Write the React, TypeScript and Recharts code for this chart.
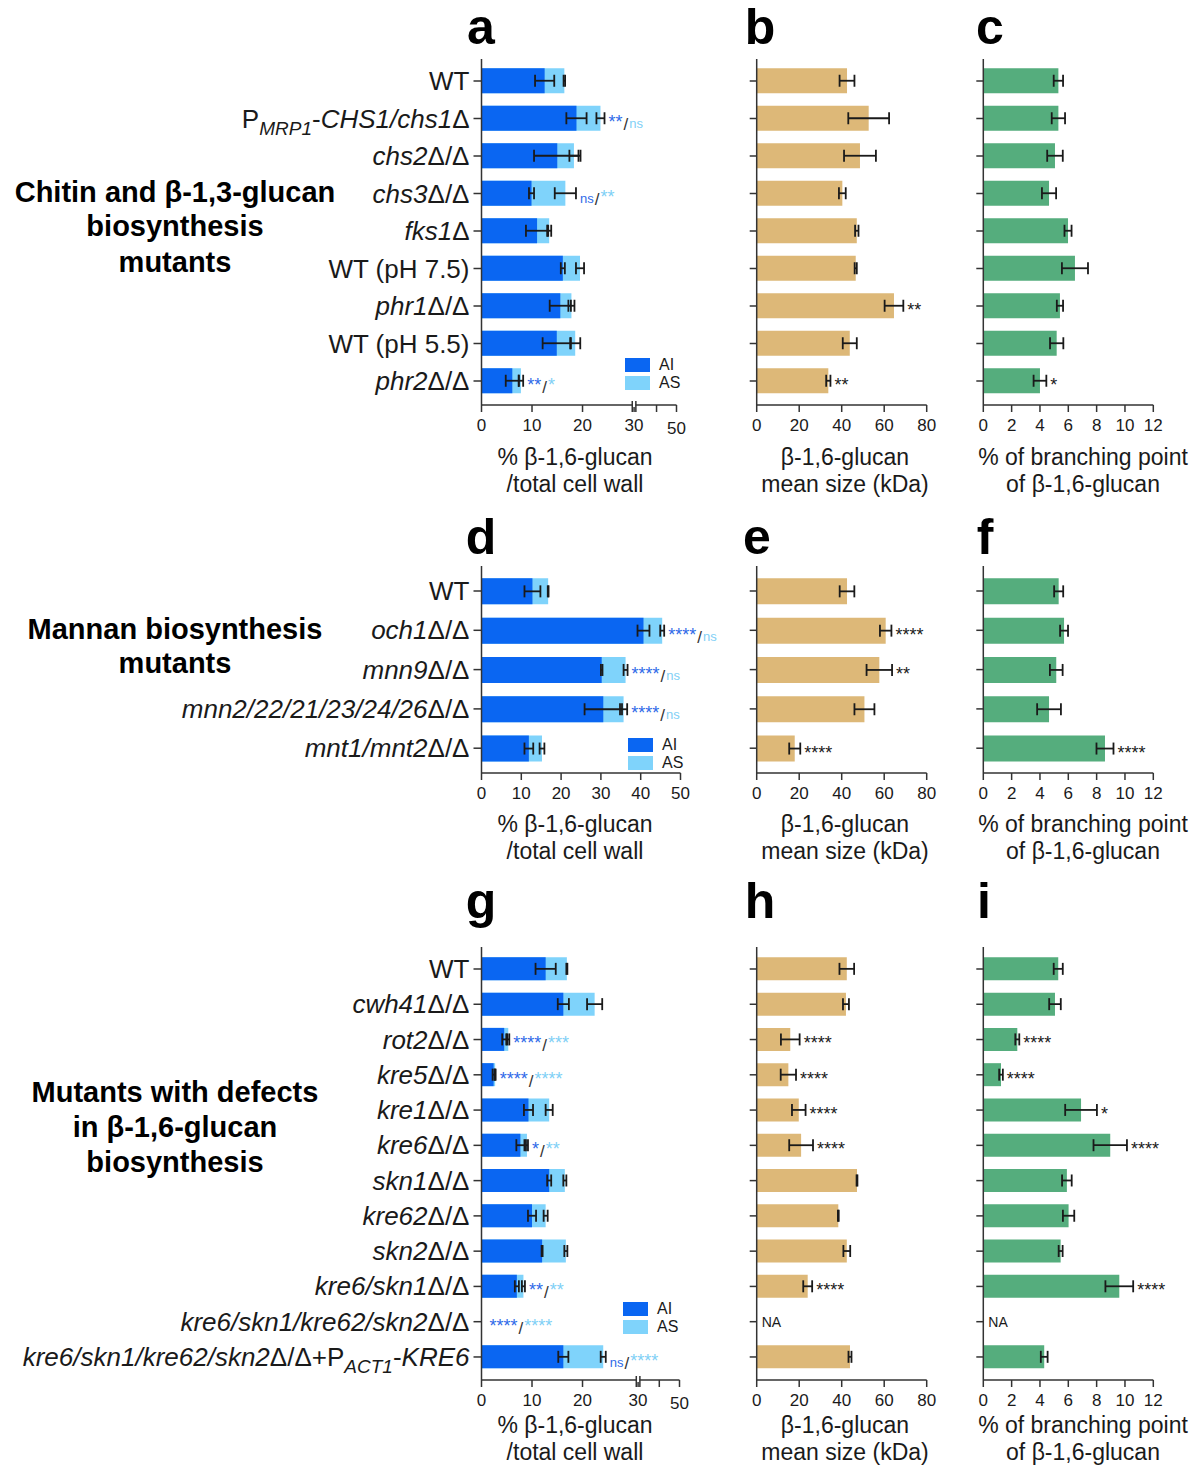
import React from "react";
import { BarChart, Bar, XAxis, YAxis, ErrorBar, LabelList, Legend } from "recharts";

const FONT = "'Liberation Sans', Arial, Helvetica, sans-serif";
const AI_COLOR = "#0a66f2";
const AS_COLOR = "#7fd3fb";
const SIZE_COLOR = "#ddb878";
const BRANCH_COLOR = "#55ad7d";
const SIG_DARK = "#2f6ae8";
const SIG_LIGHT = "#7fd0f6";
const INK = "#1a1a1a";
const AXIS = { stroke: "#333", strokeWidth: 1.5 };

// markup in strain names: *...* italic, _..._ subscript

// a, b, c: chitin and β-1,3-glucan mutants
const chitinStrains = ["WT", "P_*MRP1*_-*CHS1/chs1*Δ", "*chs2*Δ/Δ", "*chs3*Δ/Δ", "*fks1*Δ", "WT (pH 7.5)", "*phr1*Δ/Δ", "WT (pH 5.5)", "*phr2*Δ/Δ"];
const chitinAI = [12.5, 18.8, 15.0, 9.9, 11.0, 16.1, 15.6, 14.9, 6.1];
const chitinAIErr = [1.9, 2.0, 4.6, 0.5, 2.2, 0.4, 2.1, 2.8, 1.3];
const chitinAS = [3.9, 4.75, 3.3, 6.7, 2.4, 3.4, 2.2, 3.65, 1.7];
const chitinASErr = [0.15, 0.8, 0.9, 2.1, 0.4, 0.8, 0.6, 1.0, 0.45];
const chitinSig = [["", ""], ["**", "ns"], ["", ""], ["ns", "**"], ["", ""], ["", ""], ["", ""], ["", ""], ["**", "*"]];
const chitinSize = [42.5, 52.7, 48.6, 40.3, 47.1, 46.6, 64.6, 43.8, 33.7];
const chitinSizeErr = [3.5, 9.6, 7.5, 1.6, 0.8, 0.5, 4.4, 3.3, 1.0];
const chitinSizeSig = ["", "", "", "", "", "", "**", "", "**"];
const chitinBranch = [5.3, 5.3, 5.06, 4.64, 5.98, 6.47, 5.41, 5.18, 4.0];
const chitinBranchErr = [0.33, 0.47, 0.55, 0.5, 0.25, 0.92, 0.22, 0.47, 0.45];
const chitinBranchSig = ["", "", "", "", "", "", "", "", "*"];

// d, e, f: mannan mutants
const mannanStrains = ["WT", "*och1*Δ/Δ", "*mnn9*Δ/Δ", "*mnn2/22/21/23/24/26*Δ/Δ", "*mnt1/mnt2*Δ/Δ"];
const mannanAI = [12.8, 40.7, 30.2, 30.6, 11.9];
const mannanAIErr = [2.0, 1.5, 0.2, 4.7, 1.1];
const mannanAS = [3.95, 4.7, 6.0, 5.1, 3.3];
const mannanASErr = [0.1, 0.5, 0.5, 0.9, 0.6];
const mannanSig = [["", ""], ["****", "ns"], ["****", "ns"], ["****", "ns"], ["", ""]];
const mannanSize = [42.5, 60.7, 57.7, 50.7, 17.9];
const mannanSizeErr = [3.45, 2.7, 6.0, 4.7, 2.6];
const mannanSizeSig = ["", "****", "**", "", "****"];
const mannanBranch = [5.32, 5.7, 5.15, 4.64, 8.59];
const mannanBranchErr = [0.32, 0.28, 0.45, 0.84, 0.6];
const mannanBranchSig = ["", "", "", "", "****"];

// g, h, i: β-1,6-glucan biosynthesis mutants
const kreStrains = ["WT", "*cwh41*Δ/Δ", "*rot2*Δ/Δ", "*kre5*Δ/Δ", "*kre1*Δ/Δ", "*kre6*Δ/Δ", "*skn1*Δ/Δ", "*kre62*Δ/Δ", "*skn2*Δ/Δ", "*kre6/skn1*Δ/Δ", "*kre6/skn1/kre62/skn2*Δ/Δ", "*kre6/skn1/kre62/skn2*Δ/Δ+P_*ACT1*_-*KRE6*"];
const kreAI = [12.7, 16.2, 4.5, 2.4, 9.3, 7.7, 13.4, 10.0, 12.0, 7.0, 0, 16.2];
const kreAIErr = [2.0, 1.1, 0.4, 0.2, 0.9, 0.8, 0.4, 0.8, 0.1, 0.4, null, 1.0];
const kreAS = [4.2, 6.2, 0.8, 0.3, 4.1, 1.3, 3.1, 2.7, 4.7, 1.3, 0, 7.9];
const kreASErr = [0.1, 1.5, 0.2, 0.1, 0.7, 0.2, 0.3, 0.4, 0.3, 0.3, null, 0.5];
const kreSig = [["", ""], ["", ""], ["****", "***"], ["****", "****"], ["", ""], ["*", "**"], ["", ""], ["", ""], ["", ""], ["**", "**"], ["****", "****"], ["ns", "****"]];
const kreSize = [42.4, 42.0, 15.8, 14.9, 19.8, 20.9, 47.2, 38.4, 42.4, 24.0, null, 43.9];
const kreSizeErr = [3.45, 1.4, 4.4, 3.6, 3.2, 5.6, 0.2, 0.2, 1.6, 2.1, null, 0.7];
const kreSizeSig = ["", "", "****", "****", "****", "****", "", "", "", "****", "", ""];
const kreBranch = [5.29, 5.06, 2.4, 1.25, 6.9, 8.96, 5.9, 6.02, 5.46, 9.6, null, 4.3];
const kreBranchErr = [0.32, 0.41, 0.14, 0.13, 1.12, 1.18, 0.34, 0.4, 0.14, 0.98, null, 0.24];
const kreBranchSig = ["", "", "****", "****", "*", "****", "", "", "", "****", "", ""];

function buildRows(strains, ai, aiErr, as, asErr, sig, size, sizeErr, sizeSig, branch, branchErr, branchSig) {
  return strains.map((strain, i) => ({
    strain,
    ai: ai[i],
    aiErr: aiErr[i],
    total: ai[i] + as[i],
    asErr: asErr[i],
    sigAI: sig[i][0],
    sigAS: sig[i][1],
    size: size[i],
    sizeErr: sizeErr[i],
    sizeSig: sizeSig[i],
    branch: branch[i],
    branchErr: branchErr[i],
    branchSig: branchSig[i],
  }));
}

const chitinRows = buildRows(chitinStrains, chitinAI, chitinAIErr, chitinAS, chitinASErr, chitinSig, chitinSize, chitinSizeErr, chitinSizeSig, chitinBranch, chitinBranchErr, chitinBranchSig);
const mannanRows = buildRows(mannanStrains, mannanAI, mannanAIErr, mannanAS, mannanASErr, mannanSig, mannanSize, mannanSizeErr, mannanSizeSig, mannanBranch, mannanBranchErr, mannanBranchSig);
const kreRows = buildRows(kreStrains, kreAI, kreAIErr, kreAS, kreASErr, kreSig, kreSize, kreSizeErr, kreSizeSig, kreBranch, kreBranchErr, kreBranchSig);

// layout
const ROW1 = { plotTop: 59, plotBottom: 405, padTop: 3.25, padBottom: 5.25, barSize: 25 };
const ROW2 = { plotTop: 566, plotBottom: 773, padTop: 5.35, padBottom: 5.15, barSize: 26 };
const ROW3 = { plotTop: 947, plotBottom: 1380, padTop: 4.36, padBottom: 5.4, barSize: 23 };
const X_TICK = 7;
const X_MARGIN = 7;
const Y_TICK = 8;
const Y_MARGIN = 4;
const AXIS_H = 40;
const LABEL_SIZE = 26;
const STAR_SIZE = 18;
const ERR = { stroke: INK, strokeWidth: 1.8 };

const brokenA = { plotLeft: 481.5, plotWidth: 195, domainMax: 38.6, ticks: [0, 10, 20, 30.2, 34.65, 38.6], labels: ["0", "10", "20", "30", "", "50"], breakAt: 30.2 };
const brokenG = { plotLeft: 481.5, plotWidth: 198, domainMax: 39.2, ticks: [0, 10, 20, 31, 35.2, 39.2], labels: ["0", "10", "20", "30", "", "50"], breakAt: 31 };
const linearD = { plotLeft: 481.5, plotWidth: 199, domainMax: 50, ticks: [0, 10, 20, 30, 40, 50] };
const sizeAxis = { plotLeft: 756.7, plotWidth: 170, domainMax: 80, ticks: [0, 20, 40, 60, 80] };
const branchAxis = { plotLeft: 983.3, plotWidth: 170, domainMax: 12, ticks: [0, 2, 4, 6, 8, 10, 12] };

function parseMarkup(s) {
  const segs = [];
  let italic = false;
  let sub = false;
  let cur = "";
  const push = () => {
    if (cur) segs.push({ t: cur, italic, sub });
    cur = "";
  };
  for (const ch of s) {
    if (ch === "*") { push(); italic = !italic; }
    else if (ch === "_") { push(); sub = !sub; }
    else cur += ch;
  }
  push();
  return segs;
}

function sigText(x, y, row) {
  return (
    <text x={x} y={y + 10} fontFamily={FONT}>
      <tspan fill={SIG_DARK} fontSize={row.sigAI === "ns" ? 13 : STAR_SIZE}>{row.sigAI}</tspan>
      <tspan fill="#333" fontSize={17} dx={1} dy={2}>/</tspan>
      <tspan fill={SIG_LIGHT} fontSize={row.sigAS === "ns" ? 13 : STAR_SIZE} dx={1} dy={-2}>{row.sigAS}</tspan>
    </text>
  );
}

function StrainTick(props) {
  const { x, y, payload, rows } = props;
  const segs = parseMarkup(String(payload.value));
  const row = rows.find((r) => r.strain === payload.value);
  let prevSub = false;
  return (
    <g>
      <text x={x} y={y + 9} textAnchor="end" fontSize={LABEL_SIZE} fill={INK} fontFamily={FONT}>
        {segs.map((s, i) => {
          const dy = s.sub && !prevSub ? 7 : !s.sub && prevSub ? -7 : undefined;
          prevSub = s.sub;
          return (
            <tspan key={i} dy={dy} fontStyle={s.italic ? "italic" : "normal"} fontSize={s.sub ? 19 : LABEL_SIZE}>
              {s.t}
            </tspan>
          );
        })}
      </text>
      {/* rows with no measurable glucan: annotation sits next to the axis */}
      {row && row.total === 0 && (row.sigAI || row.sigAS) ? sigText(x + Y_TICK + Y_MARGIN + 8, y, row) : null}
    </g>
  );
}

function NumberTick(props) {
  const { x, y, payload, ticks, labels, breakAt } = props;
  const v = payload.value;
  const i = ticks.indexOf(v);
  const label = labels ? labels[i] : String(v);
  const axisY = y - X_TICK - X_MARGIN;
  return (
    <g>
      {breakAt === v && (
        <g>
          <rect x={x - 1.5} y={axisY - 2} width={3} height={4} fill="#fff" />
          <line x1={x - 1.8} x2={x - 1.8} y1={axisY - 4} y2={axisY + 7} {...AXIS} />
          <line x1={x + 1.8} x2={x + 1.8} y1={axisY - 4} y2={axisY + 7} {...AXIS} />
        </g>
      )}
      <text x={x} y={y + (labels && label === "50" ? 3 : 0)} dy="0.71em" textAnchor="middle" fontSize={17} fill={INK} fontFamily={FONT}>
        {label}
      </text>
    </g>
  );
}

function boxOf(p) {
  const vb = p.viewBox || {};
  return {
    x: p.x ?? vb.x,
    y: p.y ?? vb.y,
    width: p.width ?? vb.width ?? 0,
    height: p.height ?? vb.height ?? 0,
  };
}

function StackSig(p, rows, unit) {
  const row = rows.find((r) => r.strain === p.value);
  if (!row || row.total === 0 || (!row.sigAI && !row.sigAS)) return null;
  const b = boxOf(p);
  const end = Math.max(row.total + (row.asErr || 0), row.ai + (row.aiErr || 0));
  const sx = b.x + b.width + (end - row.total) * unit + 4;
  return sigText(sx, b.y + b.height / 2, row);
}

function SingleSig(p, rows, valueKey, errKey, sigKey, unit) {
  const row = rows.find((r) => r.strain === p.value);
  if (!row || !row[sigKey] || row[valueKey] == null) return null;
  const b = boxOf(p);
  const sx = b.x + b.width + (row[errKey] || 0) * unit + 4;
  const cy = b.y + b.height / 2;
  return (
    <text x={sx} y={cy + 10} fontSize={STAR_SIZE} fill={INK} fontFamily={FONT}>
      {row[sigKey]}
    </text>
  );
}

function LegendBox({ payload }) {
  const items = [...(payload || [])].sort((a, b) => String(a.value).localeCompare(String(b.value)));
  return (
    <div style={{ fontFamily: FONT, fontSize: 16, color: INK }}>
      {items.map((it) => (
        <div key={it.value} style={{ display: "flex", alignItems: "center", height: 18 }}>
          <span style={{ display: "inline-block", width: 25, height: 14, background: it.color }} />
          <span style={{ marginLeft: 9, lineHeight: "18px" }}>{it.value}</span>
        </div>
      ))}
    </div>
  );
}

function StackedPanel({ rows, row, axis, width, legendAt }) {
  const height = row.plotBottom - row.plotTop + AXIS_H;
  const yAxisW = axis.plotLeft;
  const right = width - yAxisW - axis.plotWidth;
  const unit = axis.plotWidth / axis.domainMax;
  return (
    <div style={{ position: "absolute", left: 0, top: row.plotTop }}>
      <BarChart width={width} height={height} data={rows} layout="vertical" barGap={-row.barSize} margin={{ top: 0, right, bottom: 0, left: 0 }}>
        <XAxis
          type="number"
          domain={[0, axis.domainMax]}
          ticks={axis.ticks}
          interval={0}
          height={AXIS_H}
          tickSize={X_TICK}
          tickMargin={X_MARGIN}
          axisLine={AXIS}
          tickLine={AXIS}
          tick={(p) => <NumberTick {...p} ticks={axis.ticks} labels={axis.labels} breakAt={axis.breakAt} />}
        />
        <YAxis
          type="category"
          dataKey="strain"
          width={yAxisW}
          interval={0}
          padding={{ top: row.padTop, bottom: row.padBottom }}
          tickSize={Y_TICK}
          tickMargin={Y_MARGIN}
          axisLine={AXIS}
          tickLine={AXIS}
          tick={(p) => <StrainTick {...p} rows={rows} />}
        />
        <Bar dataKey="total" name="AS" fill={AS_COLOR} barSize={row.barSize} isAnimationActive={false}>
          <ErrorBar dataKey="asErr" direction="x" width={6} {...ERR} />
          <LabelList dataKey="strain" content={(p) => StackSig(p, rows, unit)} />
        </Bar>
        <Bar dataKey="ai" name="AI" fill={AI_COLOR} barSize={row.barSize} isAnimationActive={false}>
          <ErrorBar dataKey="aiErr" direction="x" width={6} {...ERR} />
        </Bar>
        <Legend
          layout="vertical"
          align="center"
          verticalAlign="middle"
          content={(p) => <LegendBox payload={p.payload} />}
          wrapperStyle={{ left: legendAt[0], top: legendAt[1] - row.plotTop, width: 70, height: 36 }}
        />
      </BarChart>
    </div>
  );
}

function SinglePanel({ rows, row, axis, left, width, valueKey, errKey, sigKey, color }) {
  const height = row.plotBottom - row.plotTop + AXIS_H;
  const yAxisW = axis.plotLeft - left;
  const right = width - yAxisW - axis.plotWidth;
  const unit = axis.plotWidth / axis.domainMax;
  return (
    <div style={{ position: "absolute", left, top: row.plotTop }}>
      <BarChart width={width} height={height} data={rows} layout="vertical" margin={{ top: 0, right, bottom: 0, left: 0 }}>
        <XAxis
          type="number"
          domain={[0, axis.domainMax]}
          ticks={axis.ticks}
          interval={0}
          height={AXIS_H}
          tickSize={X_TICK}
          tickMargin={X_MARGIN}
          axisLine={AXIS}
          tickLine={AXIS}
          tick={(p) => <NumberTick {...p} ticks={axis.ticks} />}
        />
        <YAxis
          type="category"
          dataKey="strain"
          width={yAxisW}
          interval={0}
          padding={{ top: row.padTop, bottom: row.padBottom }}
          tickSize={7}
          tickMargin={2}
          axisLine={AXIS}
          tickLine={AXIS}
          tick={(p) => {
            const r = rows.find((q) => q.strain === p.payload?.value);
            if (!r || r[valueKey] != null) return <g />;
            return (
              <text x={p.x + 9 + 5} y={p.y + 5} fontSize={14} fill={INK} fontFamily={FONT}>
                NA
              </text>
            );
          }}
        />
        <Bar dataKey={valueKey} fill={color} barSize={row.barSize} isAnimationActive={false}>
          <ErrorBar dataKey={errKey} direction="x" width={6} {...ERR} />
          <LabelList dataKey="strain" content={(p) => SingleSig(p, rows, valueKey, errKey, sigKey, unit)} />
        </Bar>
      </BarChart>
    </div>
  );
}

const letters = [
  ["a", 481, 44], ["b", 760, 44], ["c", 990, 44],
  ["d", 481, 554], ["e", 757, 554], ["f", 985, 554],
  ["g", 481, 918], ["h", 760, 918], ["i", 984, 918],
];

const groupLabels = [
  [["Chitin and β-1,3-glucan", "biosynthesis", "mutants"], [192, 226, 262]],
  [["Mannan biosynthesis", "mutants"], [629, 663]],
  [["Mutants with defects", "in β-1,6-glucan", "biosynthesis"], [1092, 1127, 1162]],
];

const axisTitles = [
  ["% β-1,6-glucan", "/total cell wall", 575],
  ["β-1,6-glucan", "mean size (kDa)", 845],
  ["% of branching point", "of β-1,6-glucan", 1083],
];
const axisTitleRows = [457, 824, 1425];

export default function App() {
  return (
    <div style={{ position: "relative", width: 1198, height: 1465, background: "#fff", overflow: "hidden", fontFamily: FONT }}>
      <style>{"body{margin:0}"}</style>
      <svg width={1198} height={1465} style={{ position: "absolute", left: 0, top: 0 }}>
        {letters.map(([t, x, y]) => (
          <text key={t} x={x} y={y} textAnchor="middle" fontSize={50} fontWeight="bold" fill="#000" fontFamily={FONT}>
            {t}
          </text>
        ))}
        {groupLabels.map(([lines, ys], gi) =>
          lines.map((ln, li) => (
            <text key={`${gi}-${li}`} x={175} y={ys[li]} dominantBaseline="central" textAnchor="middle" fontSize={29} fontWeight="bold" fill="#000" fontFamily={FONT}>
              {ln}
            </text>
          ))
        )}
        {axisTitleRows.map((ty, ri) =>
          axisTitles.map(([l1, l2, cx], ci) => (
            <g key={`${ri}-${ci}`}>
              <text x={cx} y={ty} dominantBaseline="central" textAnchor="middle" fontSize={23} fill={INK} fontFamily={FONT}>{l1}</text>
              <text x={cx} y={ty + 27} dominantBaseline="central" textAnchor="middle" fontSize={23} fill={INK} fontFamily={FONT}>{l2}</text>
            </g>
          ))
        )}
      </svg>

      <StackedPanel rows={chitinRows} row={ROW1} axis={brokenA} width={740} legendAt={[625, 356]} />
      <SinglePanel rows={chitinRows} row={ROW1} axis={sizeAxis} left={735} width={235} valueKey="size" errKey="sizeErr" sigKey="sizeSig" color={SIZE_COLOR} />
      <SinglePanel rows={chitinRows} row={ROW1} axis={branchAxis} left={966} width={232} valueKey="branch" errKey="branchErr" sigKey="branchSig" color={BRANCH_COLOR} />

      <StackedPanel rows={mannanRows} row={ROW2} axis={linearD} width={740} legendAt={[628, 736]} />
      <SinglePanel rows={mannanRows} row={ROW2} axis={sizeAxis} left={735} width={235} valueKey="size" errKey="sizeErr" sigKey="sizeSig" color={SIZE_COLOR} />
      <SinglePanel rows={mannanRows} row={ROW2} axis={branchAxis} left={966} width={232} valueKey="branch" errKey="branchErr" sigKey="branchSig" color={BRANCH_COLOR} />

      <StackedPanel rows={kreRows} row={ROW3} axis={brokenG} width={740} legendAt={[623, 1300]} />
      <SinglePanel rows={kreRows} row={ROW3} axis={sizeAxis} left={735} width={235} valueKey="size" errKey="sizeErr" sigKey="sizeSig" color={SIZE_COLOR} />
      <SinglePanel rows={kreRows} row={ROW3} axis={branchAxis} left={966} width={232} valueKey="branch" errKey="branchErr" sigKey="branchSig" color={BRANCH_COLOR} />
    </div>
  );
}
